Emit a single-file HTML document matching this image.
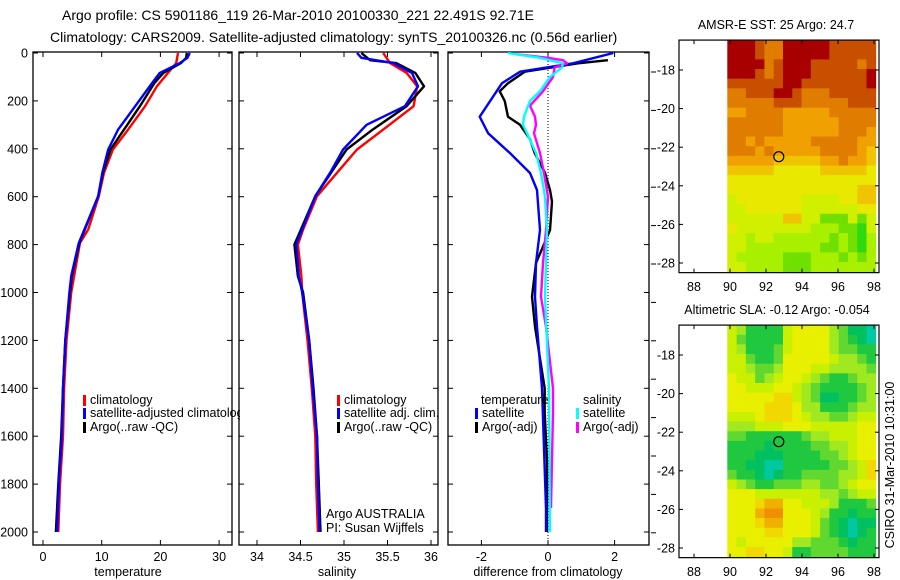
<!DOCTYPE html>
<html><head><meta charset="utf-8">
<style>
html,body{margin:0;padding:0;background:#fff;}
svg{display:block;font-family:"Liberation Sans",sans-serif;}
text{font-size:12.5px;fill:#000;}
</style></head>
<body>
<svg id="fig" width="900" height="580" viewBox="0 0 900 580" xmlns="http://www.w3.org/2000/svg">
<defs><clipPath id="legclip"><rect x="0" y="380" width="240" height="80"/></clipPath></defs>
<text x="62" y="20" style="font-size:14px">Argo profile: CS 5901186_119 26-Mar-2010 20100330_221 22.491S 92.71E</text>
<text x="50" y="42" style="font-size:14px">Climatology: CARS2009. Satellite-adjusted climatology: synTS_20100326.nc (0.56d earlier)</text>
<text x="776" y="29" text-anchor="middle">AMSR-E SST: 25 Argo: 24.7</text>
<text x="777" y="314" text-anchor="middle">Altimetric SLA: -0.12 Argo: -0.054</text>
<text transform="translate(894,465) rotate(-90)" text-anchor="middle">CSIRO 31-Mar-2010 10:31:00</text>
<g id="layer"></g>
</svg>
<script>
// ---------- profile data ----------
const tRedD=[0,42,83,139,222,320,403,500,598,737,793,932,1000,1200,1400,1600,1800,2000];
const tRedV=[23.0,22.7,21.3,19.4,17.4,14.5,11.9,10.4,9.5,7.7,6.3,5.3,4.8,4.0,3.6,3.4,2.9,2.6];
const tBlkD=[0,20,42,83,125,222,320,403,500,598,793,932,1000,1200,1400,1600,1800,2000];
const tBlkV=[24.5,24.4,23.5,20.5,19.0,16.5,13.8,11.5,10.2,9.4,6.2,4.9,4.6,3.8,3.4,3.1,2.6,2.2];
const tBluD=[0,20,42,83,125,222,320,403,500,598,793,932,1000,1200,1400,1600,1800,2000];
const tBluV=[25.0,24.6,23.3,19.9,18.6,15.7,12.8,11.1,10.1,9.4,6.1,4.8,4.5,3.8,3.4,3.2,2.7,2.4];

const sRedD=[0,42,83,139,222,320,403,500,598,737,800,932,1000,1200,1400,1600,1800,2000];
const sRedV=[35.45,35.53,35.72,35.84,35.80,35.45,35.15,34.92,34.69,34.53,34.47,34.51,34.52,34.58,34.63,34.67,34.68,34.70];
const sBlkD=[0,30,42,83,139,222,320,403,500,598,800,932,1000,1200,1400,1600,1800,2000];
const sBlkV=[35.20,35.30,35.60,35.82,35.92,35.72,35.33,35.03,34.85,34.67,34.43,34.47,34.53,34.60,34.65,34.69,34.71,34.73];
const sBluD=[0,20,42,83,139,222,300,403,500,598,800,932,1000,1200,1400,1600,1800,2000];
const sBluV=[35.15,35.20,35.57,35.78,35.85,35.70,35.26,34.99,34.84,34.67,34.45,34.48,34.52,34.60,34.64,34.69,34.70,34.72];

const dBlkD=[30,43,78,126,160,200,266,300,360,418,500,572,620,740,877,1018,1143,1400,1500,1700,2000];
const dBlkV=[1.8,0.9,-0.7,-1.2,-1.45,-1.3,-1.2,-0.84,-0.54,-0.4,-0.09,0.06,0.12,0.06,-0.36,-0.48,-0.39,-0.1,-0.1,-0.03,-0.03];
const dBluD=[0,43,78,126,266,335,418,501,572,739,877,1018,1143,1400,1900,2000];
const dBluV=[1.96,0.75,-0.84,-1.38,-2.05,-1.8,-1.14,-0.54,-0.33,-0.24,-0.36,-0.39,-0.33,-0.18,-0.06,-0.06];
const dMagD=[5,20,30,43,60,100,160,220,266,300,335,418,501,600,740,877,1018,1143,1400,1500,1700,1900];
const dMagV=[-0.96,0.0,0.45,0.57,0.2,0.15,-0.15,-0.54,-0.39,-0.36,-0.42,-0.24,-0.12,0.0,-0.06,-0.15,-0.21,-0.06,0.15,0.15,0.12,0.09];
const dCyaD=[0,20,43,60,100,160,200,266,300,335,418,501,600,740,877,1018,1400,2000];
const dCyaV=[-1.2,-0.24,0.45,0.42,0.06,-0.24,-0.54,-0.72,-0.75,-0.63,-0.36,-0.21,-0.09,-0.03,-0.06,-0.09,0.03,0.06];

const depthTicks=[0,200,400,600,800,1000,1200,1400,1600,1800,2000];
const tempTicks=[0,10,20,30];
const salTicks=[34,34.5,35,35.5,36];
const diffTicks=[-2,0,2];
const lonTicks=[88,90,92,94,96,98];
const latTicks=[-18,-20,-22,-24,-26,-28];

// map grids: rows from -16.45 S southward in 0.5 deg, columns from 89.85 E; digits = colour level
const sstGrid=["9998779999988888","9998779999988888","9999789998888878","9998789998888889","8888889988888889","7788899877788888","7777788877777888","6677776666677777","7777776666667777","7777776666667776","7767666667777766","7776766666777765","6666655555667665","5555544444555554","4444444444444444","4444444444444455","3444444433334455","3344444433333344","3333335533111313","4333333332221103","3323322222212102","3322222222112102","3222221112221212","3322221112222222"];
const slaGrid=["5422225666643110","5322225666643210","5422235666643322","5532236666654432","5543346665544443","6553456654322344","6655566543222234","6666677543112234","6666777644222344","5556777654433455","4445556665555566","3322222234455566","2222122223344566","2221112222334566","2211002222233457","3221012233334457","5432233344334566","6665555555443455","6667886655542223","6668996665422122","6667886665321011","6666776665321012","6566666443332122","6677665223333222"];
const sstColors=["#30d810","#70e000","#a8f000","#d0f000","#e8e800","#f0c400","#f0a000","#e07c00","#c84e00","#a80000"];
const slaColors=["#00c8a0","#00c060","#20c840","#60d830","#a0e820","#c8f000","#e8f000","#f0d800","#f0b000","#f09000"];

// ---------- helpers ----------
const NS="http://www.w3.org/2000/svg";
const layer=document.getElementById('layer');
function mk(tag,attrs,parent){const e=document.createElementNS(NS,tag);for(const k in attrs)e.setAttribute(k,attrs[k]);(parent||layer).appendChild(e);return e;}
const yD=d=>53+d*0.2395;

function panel(name,x0,x1,xScale,xt,fmt,showY){
  const g=mk('g',{});
  
  
  const f=mk('rect',{x:x0,y:52,width:x1-x0,height:493,fill:'none',stroke:'#000','stroke-width':1.3},g);
  
  
  depthTicks.forEach(d=>{
    const y=yD(d);
    mk('line',{x1:x0,x2:x0+5,y1:y,y2:y,stroke:'#000'},g);
    mk('line',{x1:x1,x2:x1-5,y1:y,y2:y,stroke:'#000'},g);
    if(showY){const t=mk('text',{x:x0-5,y:y+4.5,'text-anchor':'end'},g);t.textContent=d;
      
      }
  });
  xt.forEach(v=>{
    const x=xScale(v);
    mk('line',{x1:x,x2:x,y1:52,y2:57,stroke:'#000'},g);
    mk('line',{x1:x,x2:x,y1:545,y2:540,stroke:'#000'},g);
    const t=mk('text',{x:x,y:561,'text-anchor':'middle'},g);t.textContent=fmt(v);
    
    
  });
  return g;
}
function series(g,name,D,V,xs,color,w){
  const pts=D.map((d,i)=>xs(V[i]).toFixed(1)+','+yD(d).toFixed(1)).join(' ');
  const p=mk('polyline',{points:pts,fill:'none',stroke:color,'stroke-width':w||2.4,'stroke-linejoin':'round'},g);
  
  
}
function legend(g,x,y,color,label){
  if(color){const m=mk('rect',{x:x-7,y:y-9,width:3,height:11,fill:color},g);
    
    }
  const t=mk('text',{x:x,y:y},g);t.textContent=label;
  
  
}
function label(txt,x,y,name,anchor){const t=mk('text',{x:x,y:y,'text-anchor':anchor||'start'});t.textContent=txt;
  
  }

// ---------- panel 1: temperature ----------
const xT=v=>43+v*5.87;
const g1=panel('temperature-panel',33,232,xT,tempTicks,v=>v,true);
series(g1,'temp-climatology-line',tRedD,tRedV,xT,'#ff0000');
series(g1,'temp-argo-line',tBlkD,tBlkV,xT,'#000000');
series(g1,'temp-satellite-line',tBluD,tBluV,xT,'#0000ff');
const leg1=mk('g',{'clip-path':'url(#legclip)'},g1);


legend(leg1,90,404,'#ff0000','climatology');
legend(leg1,90,417,'#0000ff','satellite-adjusted climatology');
legend(leg1,90,431,'#000000','Argo(..raw -QC)');
label('temperature',128,576,'x-axis-title-temperature','middle');

// ---------- panel 2: salinity ----------
const xS=v=>257+(v-34)*87;
const g2=panel('salinity-panel',239,438,xS,salTicks,v=>String(v),false);
series(g2,'sal-climatology-line',sRedD,sRedV,xS,'#ff0000');
series(g2,'sal-argo-line',sBlkD,sBlkV,xS,'#000000');
series(g2,'sal-satellite-line',sBluD,sBluV,xS,'#0000ff');
legend(g2,344,404,'#ff0000','climatology');
legend(g2,344,417,'#0000ff','satellite adj. clim.');
legend(g2,344,431,'#000000','Argo(..raw -QC)');
label('Argo AUSTRALIA',326,518,'argo-australia-label');
label('PI: Susan Wijffels',326,532,'pi-label');
label('salinity',337,576,'x-axis-title-salinity','middle');

// ---------- panel 3: differences ----------
const xDf=v=>548+v*33.3;
const g3=panel('difference-panel',448,649,xDf,diffTicks,v=>v,false);
mk('line',{x1:548,x2:548,y1:52,y2:545,stroke:'#000','stroke-dasharray':'1,2','stroke-width':1},g3);
series(g3,'diff-temp-argo-line',dBlkD,dBlkV,xDf,'#000000');
series(g3,'diff-temp-satellite-line',dBluD,dBluV,xDf,'#0000ff');
series(g3,'diff-sal-argo-line',dMagD,dMagV,xDf,'#ff00ff');
series(g3,'diff-sal-satellite-line',dCyaD,dCyaV,xDf,'#00ffff');
legend(g3,481,404,null,'temperature');
legend(g3,482,417,'#0000ff','satellite');
legend(g3,482,431,'#000000','Argo(-adj)');
legend(g3,583,404,null,'salinity');
legend(g3,583,417,'#00ffff','satellite');
legend(g3,583,431,'#ff00ff','Argo(-adj)');
for(let k=0;k<13;k++){const y=72+k*38.4;mk('line',{x1:651,x2:656,y1:y,y2:y,stroke:'#000'},g3);}
label('difference from climatology',548,576,'x-axis-title-difference','middle');

// ---------- maps ----------
const xLon=lon=>694+(lon-88)*18;
function map(name,grid,colors,y18,xlabY){
  const yLat=lat=>y18+(-18-lat)*19.3;
  const g=mk('g',{});
  
  
  const cw=(98.1-89.85)/16;
  grid.forEach((row,r)=>{
    for(let c=0;c<row.length;c++){
      const lon=89.85+c*cw, lat=-16.45-r*0.5;
      const x=xLon(lon), y=yLat(lat);
      const cell=mk('rect',{x:x.toFixed(2),y:y.toFixed(2),width:(cw*18+0.4).toFixed(2),height:(0.5*19.3+0.4).toFixed(2),fill:colors[+row[c]]},g);
      
      
    }
  });
  const top=yLat(-16.45), bot=yLat(-28.5);
  const fr=mk('rect',{x:679,y:top,width:200,height:bot-top,fill:'none',stroke:'#000','stroke-width':1.2},g);
  
  
  latTicks.forEach(l=>{const y=yLat(l);
    mk('line',{x1:679,x2:683,y1:y,y2:y,stroke:'#000'},g);
    mk('line',{x1:879,x2:875,y1:y,y2:y,stroke:'#000'},g);
    const t=mk('text',{x:675,y:y+4.5,'text-anchor':'end'},g);t.textContent=l;
    
    });
  lonTicks.forEach(l=>{const x=xLon(l);
    mk('line',{x1:x,x2:x,y1:top,y2:top+4,stroke:'#000'},g);
    mk('line',{x1:x,x2:x,y1:bot,y2:bot-4,stroke:'#000'},g);
    const t=mk('text',{x:x,y:xlabY,'text-anchor':'middle'},g);t.textContent=l;
    
    });
  const c=mk('circle',{cx:xLon(92.71),cy:yLat(-22.491),r:5,fill:'none',stroke:'#000','stroke-width':1.2},g);
  
  
}
map('sst-map',sstGrid,sstColors,70,291);
map('sla-map',slaGrid,slaColors,355,576);
</script>
</body></html>
